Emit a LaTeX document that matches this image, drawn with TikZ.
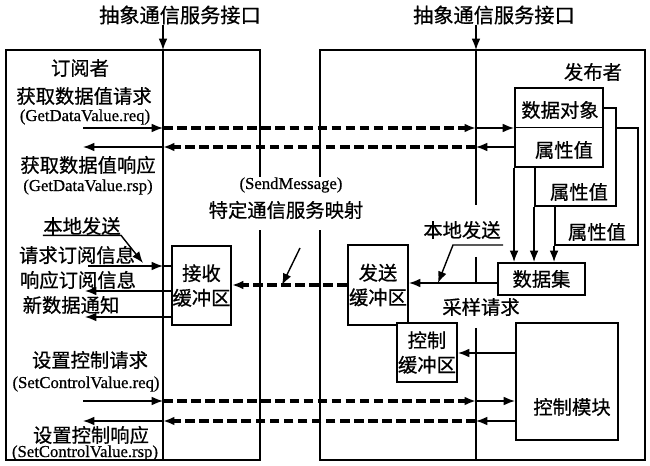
\documentclass[tikz,border=0pt]{standalone}
\usepackage{fontspec}
\setmainfont{Liberation Serif}
\newfontfamily\cjk[FakeBold=0.7]{Noto Sans CJK SC}
\newfontfamily\latn[FakeBold=0.6]{Liberation Serif}
\usetikzlibrary{arrows.meta}

\begin{document}
\begin{tikzpicture}[x=0.02cm, y=-0.02cm,
		lbl/.style={font=\cjk\fontsize{11}{14}\selectfont, inner sep=0pt, align=center},
		hdr/.style={font=\cjk\fontsize{11.5}{14}\selectfont, inner sep=0pt},
		eng/.style={font=\latn\fontsize{9.5}{11}\selectfont, inner sep=0pt},
		blk/.style={draw, line width=1.1pt, fill=white, inner sep=0pt, align=center, font=\cjk\fontsize{11}{14}\selectfont},
		wall/.style={line width=1.1pt},
		wire/.style={line width=0.9pt},
		sig/.style={line width=0.8pt, -{Latex[length=6.5pt,width=5pt]}},
		dsig/.style={line width=2pt, dash pattern=on 5.5pt off 2.5pt, -{Latex[length=6.5pt,width=5pt]}}]
			\useasboundingbox (0,0) rectangle (650,466);

			\node[hdr] (hdrL) at (180,15) {抽象通信服务接口};
			\node[hdr] (hdrR) at (494,15) {抽象通信服务接口};

			\draw[wall] (260,177) -- (260,50) -- (6,50) -- (6,460) -- (260,460) -- (260,230);
			\draw[wall] (320,177) -- (320,50) -- (645,50) -- (645,460) -- (320,460) -- (320,230);

			\coordinate (ifL) at (163,50);
			\coordinate (ifR) at (476,50);
			\draw[sig] (hdrL.south -| ifL) -- (ifL);
			\draw[wire] (ifL) -- (163,460);
			\draw[sig] (hdrR.south -| ifR) -- (ifR);
			\draw[wire] (ifR) -- (476,205);
			\draw[wire] (476,257) -- (476,283);
			\draw[wire] (476,328) -- (476,460);

			\node[lbl] (sub) at (80,68) {订阅者};
			\node[lbl] (getreq) at (84,96) {获取数据值请求};
			\node[eng] (getreqE) at (85,117) {(GetDataValue.req)};
			\node[lbl] (getrsp) at (88,165) {获取数据值响应};
			\node[eng] (getrspE) at (88,187) {(GetDataValue.rsp)};
			\node[lbl] (locL) at (82,226) {本地发送};
			\node[lbl] (subreq) at (77,255) {请求订阅信息};
			\node[lbl] (subrsp) at (78,280) {响应订阅信息};
			\node[lbl] (newdat) at (71,305) {新数据通知};
			\node[lbl] (setreq) at (90,360) {设置控制请求};
			\node[eng] (setreqE) at (86,384) {(SetControlValue.req)};
			\node[lbl] (setrsp) at (91,435) {设置控制响应};
			\node[eng] (setrspE) at (85,453) {(SetControlValue.rsp)};

			\node[eng] (sm) at (291,185) {(SendMessage)};
			\node[lbl] (map) at (286,210) {特定通信服务映射};

			\node[lbl] (pub) at (593,72) {发布者};
			\node[blk, minimum width=1.66cm, minimum height=2.34cm] (attr3) at (596.5,186.5) {};
			\node[blk, minimum width=1.62cm, minimum height=1.96cm] (attr2) at (575.5,157) {};
			\node[blk, minimum width=1.76cm, minimum height=1.58cm] (obj) at (559,127.5) {};
			\draw[wire] (obj.west) -- (obj.east);
			\node[lbl] (objtxt) at (560,110) {数据对象};
			\node[lbl] (val1) at (564,150) {属性值};
			\node[lbl] (val2) at (579,192) {属性值};
			\node[lbl] (val3) at (597,232) {属性值};
			\node[blk, minimum width=1.74cm, minimum height=0.64cm] (dset) at (541.5,279) {数据集};
			\draw[sig] (obj.south west) -- (obj.south west |- dset.north);
			\draw[sig] (attr2.south west) -- (attr2.south west |- dset.north);
			\draw[sig] (attr3.south west) -- (attr3.south west |- dset.north);

			\node[blk, minimum width=1.18cm, minimum height=1.58cm] (recvbuf) at (201.5,285.5) {接收\\缓冲区};
			\node[blk, minimum width=1.2cm, minimum height=1.6cm] (sendbuf) at (378,285) {发送\\缓冲区};
			\node[blk, minimum width=1.2cm, minimum height=1.18cm] (ctrlbuf) at (427,352.5) {控制\\缓冲区};
			\node[blk, minimum width=2.04cm, minimum height=2.34cm] (ctrlmod) at (567,381.5) {};
			\node[lbl] (modtxt) at (572,407) {控制模块};
			\node[lbl] (samp) at (481,307) {采样请求};

			\draw[sig] ([yshift=-0.08cm]dset.west) -- ([yshift=-0.08cm]dset.west -| sendbuf.east);
			\draw[dsig] (sendbuf.west) -- (sendbuf.west -| recvbuf.east);
			\draw[sig] ([yshift=0.57cm]ctrlmod.west) -- ([yshift=0.57cm]ctrlmod.west -| ctrlbuf.east);

			\node[lbl] (locR) at (462,230) {本地发送};
			\coordinate (locRend) at (503,245);
			\coordinate (locRbend) at (453,245);
			\coordinate (locRtip) at (438,283);
			\draw[sig] (locRend) -- (locRbend) -- (locRtip);
			\coordinate (locLtip) at (143,263);
			\draw[sig] (locL.south west) -- (locL.south east) -- (locLtip);

			\coordinate (mapfrom) at (300,248);
			\coordinate (mapto) at (282,285);
			\draw[sig] (mapfrom) -- (mapto);

			\coordinate (srqL) at (88,266);
			\coordinate (srqA) at (163,266);
			\draw[sig] (srqL) -- (srqA);
			\draw[wire] (srqA) -- (srqA -| recvbuf.west);
			\coordinate (srsp) at (85,291);
			\draw[sig] (srsp -| recvbuf.west) -- (srsp);
			\coordinate (ndat) at (85,317);
			\draw[sig] (ndat -| recvbuf.west) -- (ndat);

			\coordinate (gqL) at (83,128);
			\coordinate (gqA) at (163,128);
			\coordinate (gqB) at (476,128);
			\draw[sig] (gqL) -- (gqA);
			\draw[dsig] (gqA) -- (gqB);
			\draw[sig] (gqB) -- (gqB -| obj.west);
			\coordinate (gsL) at (83,147);
			\coordinate (gsA) at (163,147);
			\coordinate (gsB) at (476,147);
			\draw[sig] (gsB -| obj.west) -- (gsB);
			\draw[dsig] (gsB) -- (gsA);
			\draw[sig] (gsA) -- (gsL);

			\coordinate (cqL) at (83,401);
			\coordinate (cqA) at (163,401);
			\coordinate (cqB) at (476,401);
			\draw[sig] (cqL) -- (cqA);
			\draw[dsig] (cqA) -- (cqB);
			\draw[sig] (cqB) -- (cqB -| ctrlmod.west);
			\coordinate (csL) at (83,421);
			\coordinate (csA) at (163,421);
			\coordinate (csB) at (476,421);
			\draw[sig] (csB -| ctrlmod.west) -- (csB);
			\draw[dsig] (csB) -- (csA);
			\draw[sig] (csA) -- (csL);
		\end{tikzpicture}
\end{document}
